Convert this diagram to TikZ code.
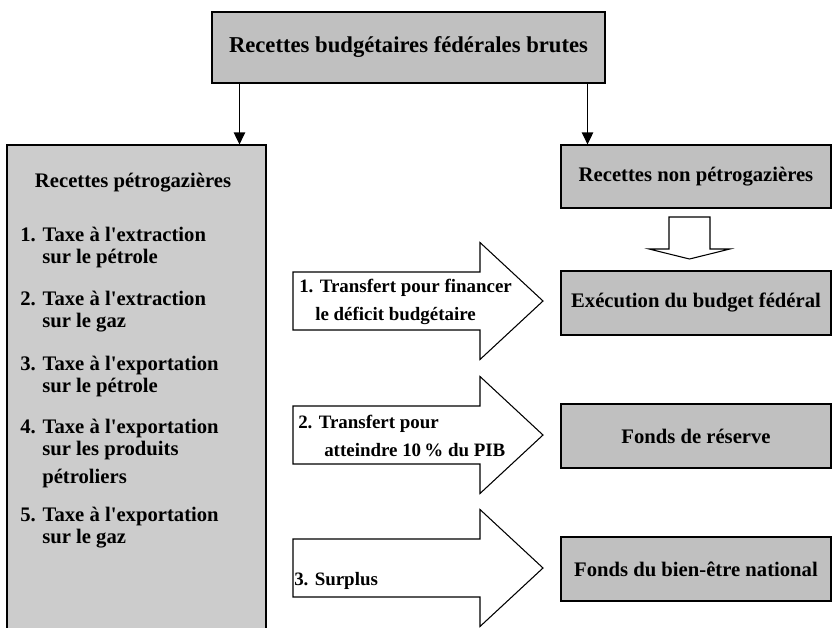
\documentclass[tikz,border=0pt]{standalone}
\usepackage{fontspec}
\setmainfont{Liberation Serif}
\usetikzlibrary{arrows.meta}

\definecolor{boxgrey}{RGB}{192,192,192}
\definecolor{listgrey}{RGB}{204,204,204}
\newcommand\fsz[2]{\fontsize{#1}{#2}\selectfont}
\newcommand\apos{\textquotesingle}

\begin{document}
\begin{tikzpicture}[x=0.75pt,y=0.75pt,yscale=-1,xscale=1,
  greybox/.style={draw, line width=0.8pt, fill=boxgrey, inner sep=0pt, font=\bfseries\fsz{15.5}{18}},
  listtext/.style={anchor=base west, align=left, inner sep=0pt, font=\bfseries\fsz{15.5}{16.3}},
  flowtext/.style={anchor=west, align=left, inner sep=0pt, font=\bfseries\fsz{14.2}{21}},
  blockarrow/.style={draw, line width=0.8pt, fill=white, line join=miter},
  thinarrow/.style={-{Triangle[length=9pt,width=8.5pt]}, line width=0.8pt}]
\useasboundingbox (0,0) rectangle (832,628);
\clip (0,0) rectangle (832,628);

%Shape: Rectangle [top]
\node[greybox, minimum width=294.75pt, minimum height=53.25pt, font=\bfseries\fsz{17}{20}] (gross) at (408.5,47.5) {Recettes budgétaires fédérales brutes};
%Shape: Rectangle [left, runs off the page]
\node[greybox, fill=listgrey, minimum width=194.25pt, minimum height=371.25pt] (oilgas) at (136.5,392.5) {};
%Shape: Rectangle [right column]
\node[greybox, minimum width=202.5pt, minimum height=47.25pt] (nonoil) at (696,176.5) {Recettes non pétrogazières};
\node[greybox, minimum width=202.5pt, minimum height=48pt] (budget) at (696,303) {Exécution du budget fédéral};
\node[greybox, minimum width=202.5pt, minimum height=48pt] (reserve) at (696,436) {Fonds de réserve};
\node[greybox, minimum width=202.5pt, minimum height=48pt] (welfare) at (696,569) {Fonds du bien-être national};

% Text Node
\node[font=\bfseries\fsz{15.5}{18}] (oilgastitle) at (133,183) {Recettes pétrogazières};
% Text Node (base = last line)
\node[listtext] (tax1) at (20,263) {1. Taxe à l\apos extraction\\\hspace*{16.5pt}sur le pétrole};
% Text Node
\node[listtext] (tax2) at (20,327) {2. Taxe à l\apos extraction\\\hspace*{16.5pt}sur le gaz};
% Text Node
\node[listtext] (tax3) at (20,392) {3. Taxe à l\apos exportation\\\hspace*{16.5pt}sur le pétrole};
% Text Node
\node[listtext] (tax4) at (20,483) {4. Taxe à l\apos exportation\\\hspace*{16.5pt}sur les produits\\[4.5pt]\hspace*{16.5pt}pétroliers};
% Text Node
\node[listtext] (tax5) at (20,543) {5. Taxe à l\apos exportation\\\hspace*{16.5pt}sur le gaz};

%Shape: Right Arrow [x3]
\foreach \y in {301,435,568}
  \draw[blockarrow] (293,{\y-29}) -- (480,{\y-29}) -- (480,{\y-58.5}) -- (543,\y) -- (480,{\y+58.5}) -- (480,{\y+29}) -- (293,{\y+29}) -- cycle;
%Shape: Down Arrow
\draw[blockarrow] (669,217) -- (710,217) -- (710,249) -- (730,249) -- (689.5,259) -- (649,249) -- (669,249) -- cycle;

% Text Node
\node[flowtext] (transfer1) at (299,302) {1. Transfert pour financer\\\hspace*{12pt}le déficit budgétaire};
% Text Node
\node[flowtext] (transfer2) at (298,436) {2. Transfert pour\\\hspace*{19.5pt}atteindre 10\,\% du PIB};
% Text Node
\node[flowtext] (surplus) at (294,581) {3. Surplus};

%Straight Lines [arrows from the top box]
\coordinate (gleft) at ([xshift=21pt]gross.south west);
\coordinate (gright) at ([xshift=-13.5pt]gross.south east);
\draw[thinarrow] (gleft) -- (gleft |- oilgas.north);
\draw[thinarrow] (gright) -- (gright |- nonoil.north);

\end{tikzpicture}
\end{document}
